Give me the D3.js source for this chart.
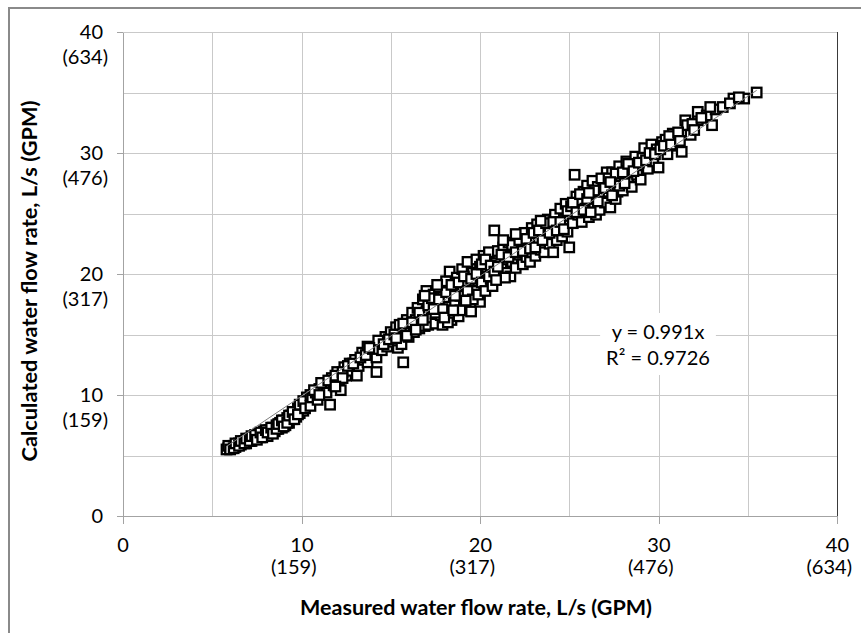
<!DOCTYPE html>
<html><head><meta charset="utf-8">
<script src="https://cdn.jsdelivr.net/npm/d3@7"></script>
<style>
html,body{margin:0;padding:0;background:#fff;}
svg{display:block;font-family:Lato,"Open Sans",sans-serif;}
</style></head>
<body><svg id="chart" width="861" height="633"></svg>
<script>
// ---- data ----
const xTickValues = [0, 10, 20, 30, 40];
const xTickGpm = ["", "(159)", "(317)", "(476)", "(634)"];
const yTickValues = [0, 10, 20, 30, 40];
const yTickGpm = ["", "(159)", "(317)", "(476)", "(634)"];
const gridValues = [5, 10, 15, 20, 25, 30, 35, 40];
const xTitle = "Measured water flow rate, L/s (GPM)";
const yTitle = "Calculated water flow rate, L/s (GPM)";
const trendSlope = 0.991;
const trendR2 = "0.9726";
// [measured L/s, calculated L/s]
const flowPoints = [
[5.9,5.6],[5.8,5.5],[6.0,5.7],[6.1,5.6],[6.2,5.8],[6.3,5.7],[6.4,5.9],[6.5,6.0],[6.6,5.9],[6.7,6.1],[6.8,6.2],[6.9,6.0],[7.0,6.3],[7.1,6.4],[7.2,6.2],[7.3,6.5],[7.4,6.4],[7.5,6.6],[7.6,6.8],[7.7,6.5],[7.8,6.7],[7.9,7.0],[8.0,6.8],[8.1,6.6],[8.2,7.1],[8.3,6.9],[8.4,7.3],[8.5,7.0],[8.6,7.5],[8.7,7.2],[8.8,7.7],[8.9,7.3],[9.0,7.9],[9.1,7.5],[9.2,8.1],[9.3,7.7],[9.4,8.3],[9.5,8.0],[9.6,8.6],[9.7,8.2],[9.8,8.9],[9.9,8.5],[10.0,9.1],[10.1,8.7],[10.2,9.4],[10.4,9.3],[10.3,9.8],
[5.9,5.8],[6.0,5.5],[6.2,5.6],[6.3,6.0],[6.5,5.8],[6.6,6.2],[6.8,6.0],[6.9,6.4],[7.1,6.2],[7.2,6.6],[7.4,6.7],[7.5,6.3],[7.7,6.9],[7.8,6.5],[8.0,7.1],[8.1,6.9],[8.3,7.3],[8.4,6.8],[8.6,7.2],[8.7,7.6],[8.9,7.9],[9.0,7.4],[9.2,7.7],[9.3,8.3],[9.5,8.6],[9.6,8.0],[9.8,8.4],[9.9,9.2],[10.1,9.5],[10.2,8.9],[10.5,10.0],[10.5,9.1],
[10.6,9.8],[10.8,10.2],[10.9,9.6],[11.0,10.5],[11.2,10.6],[11.3,11.0],[11.4,10.2],[11.6,9.2],[11.7,11.4],[11.8,10.8],[12.0,11.9],[12.1,11.2],[12.2,10.4],[12.4,12.3],[12.5,11.6],[12.7,12.6],[12.8,12.0],[13.0,12.9],[13.1,11.6],[13.2,12.4],[13.4,13.5],[13.5,12.9],[13.7,14.0],[13.7,12.7],[13.9,13.4],[14.2,13.1],[14.2,11.9],[14.4,14.3],[14.5,13.7],[14.7,14.8],[14.8,14.0],[15.0,15.2],[15.1,14.4],[15.4,13.9],[15.3,15.6],[15.7,12.7],
[10.7,10.4],[11.0,10.0],[11.1,11.0],[11.5,11.2],[11.9,11.6],[12.3,11.9],[12.6,12.4],[12.9,12.6],[13.3,13.1],[13.6,13.3],[14.0,13.8],[14.3,14.5],[14.6,14.2],[14.9,14.6],[13.8,13.9],[12.3,11.4],[11.9,10.7],
[15.2,15.0],[15.4,14.5],[15.5,15.8],[15.6,14.2],[15.8,15.3],[15.9,16.2],[16.0,14.8],[16.1,15.6],[16.2,16.8],[16.3,15.2],[16.4,16.2],[16.5,17.2],[16.6,15.5],[16.7,16.6],[16.8,17.9],[16.9,15.7],[17.0,18.6],[17.0,16.9],[17.1,15.8],[17.2,17.6],[17.3,16.4],[17.4,18.3],[17.5,15.9],[17.6,17.2],[17.7,18.9],[17.8,16.6],[17.9,15.8],[18.0,17.9],[18.1,19.4],[18.2,17.3],[18.3,20.2],[18.4,16.2],[18.5,18.6],[18.6,17.6],[18.7,19.7],[18.8,16.5],[18.9,18.2],[19.0,20.4],[19.1,17.4],[19.2,19.1],[19.3,21.0],[19.4,18.0],[19.5,16.9],[19.6,20.1],[19.7,18.6],[19.8,21.2],[19.9,19.4],[20.0,17.7],[20.0,20.6],
[15.3,14.7],[15.7,15.9],[15.9,14.9],[16.2,16.0],[16.4,15.4],[16.6,16.8],[16.8,16.2],[17.1,17.4],[17.3,18.0],[17.5,16.8],[17.7,17.9],[17.9,17.1],[18.1,18.5],[18.2,16.0],[18.4,19.1],[18.6,18.2],[18.8,19.3],[18.9,17.0],[19.1,19.8],[19.3,18.6],[19.5,19.6],[19.6,17.9],[19.8,20.0],[19.9,18.3],[16.9,18.2],[17.6,19.1],[18.0,16.4],[19.2,17.8],[17.4,17.1],[18.5,17.0],
[20.1,19.3],[20.2,21.5],[20.3,18.6],[20.4,20.3],[20.5,21.8],[20.6,19.6],[20.7,19.0],[20.8,23.6],[20.9,20.9],[21.0,21.9],[21.1,19.9],[21.2,20.6],[21.3,22.2],[21.4,21.2],[21.5,20.1],[21.6,22.6],[21.7,19.8],[21.8,21.0],[21.9,22.2],[22.0,20.5],[22.1,23.1],[22.2,21.6],[22.3,22.4],[22.4,20.8],[22.5,23.4],[22.6,21.4],[22.7,22.3],[22.8,21.0],[22.9,23.8],[23.0,22.6],[23.1,21.5],[23.2,24.1],[23.3,22.9],[23.4,22.0],[23.5,23.9],[23.6,21.8],[23.7,23.3],[23.8,24.5],[23.9,22.5],[24.0,23.7],[24.1,21.8],[24.2,24.9],[24.3,22.8],[24.4,24.1],[24.5,25.4],[24.6,23.1],[24.7,24.5],[24.8,25.8],[24.9,23.5],[25.0,22.2],[25.0,24.8],
[20.1,20.8],[20.3,21.2],[20.5,19.8],[20.6,20.7],[20.8,20.2],[21.0,20.6],[21.2,21.6],[21.4,19.7],[21.6,21.4],[21.8,22.4],[22.0,21.8],[22.2,22.8],[22.4,21.9],[22.6,22.9],[22.8,22.1],[23.0,23.4],[23.1,22.2],[23.3,23.6],[23.5,22.8],[23.7,24.2],[23.9,23.4],[24.1,24.3],[24.3,23.6],[24.5,24.3],[24.7,23.7],[24.9,25.2],[22.0,23.3],[21.3,22.8],[23.4,24.4],[20.9,19.5],
[25.1,25.6],[25.2,24.2],[25.3,28.2],[25.4,26.4],[25.5,24.9],[25.6,25.9],[25.7,24.3],[25.8,26.8],[25.9,25.4],[26.0,27.3],[26.1,24.7],[26.2,26.1],[26.3,27.7],[26.4,25.6],[26.5,24.9],[26.6,27.2],[26.7,25.3],[26.8,26.4],[26.9,27.6],[27.0,25.9],[27.1,28.4],[27.2,26.8],[27.3,25.5],[27.4,28.4],[27.5,27.2],[27.6,26.2],[27.7,26.8],[27.8,28.9],[27.9,27.6],[28.0,26.9],[28.2,29.3],[28.3,27.6],[28.4,28.8],[28.5,27.2],[28.7,29.7],[28.8,28.2],[29.0,27.8],[29.1,29.6],[29.2,30.4],[29.4,28.7],[29.6,30.7],[29.7,29.3],[29.9,30.3],[30.0,28.8],
[25.2,25.9],[25.4,25.1],[25.6,26.6],[25.8,25.3],[26.0,26.2],[26.2,25.1],[26.4,26.9],[26.6,26.0],[26.8,27.9],[27.0,27.1],[27.2,27.9],[27.4,26.5],[27.6,28.3],[27.8,27.3],[28.0,28.4],[28.1,27.5],[28.3,29.1],[28.6,28.5],[28.9,29.2],[29.3,29.4],[29.5,30.0],[29.8,29.9],[26.1,26.7],[27.3,27.6],
[30.2,30.9],[30.4,31.1],[30.5,29.9],[30.8,31.6],[30.9,31.3],[31.0,30.6],[31.3,30.1],[31.5,32.7],[31.6,32.3],[31.8,31.5],[32.2,32.7],[32.2,33.4],[32.7,33.1],[33.0,32.3],[33.2,33.6],[33.6,33.8],[34.2,34.5],[34.8,34.5],[35.5,35.0],
[30.1,30.3],[30.3,30.6],[30.6,31.4],[30.7,30.7],[31.1,31.7],[31.2,31.0],[31.9,32.4],[32.0,31.9],[32.4,32.9],[32.9,33.8],[34.0,34.1],[34.5,34.6]
];

// ---- layout ----
const svg = d3.select("#chart");
const pL = 123, pR = 837, pT = 32, pB = 516;
const x = d3.scaleLinear().domain([0, 40]).range([pL, pR]);
const y = d3.scaleLinear().domain([0, 40]).range([pB, pT]);
const labelFont = "20px";
const gridColor = "#c9c9c9";
const axisColor = "#a3a3a3";

// outer frame (cropped: left and top only)
svg.append("line").attr("x1", 9).attr("x2", 9).attr("y1", 7).attr("y2", 633).attr("stroke", "#8a8a8a").attr("stroke-width", 2);
svg.append("line").attr("x1", 8).attr("x2", 861).attr("y1", 8).attr("y2", 8).attr("stroke", "#8a8a8a").attr("stroke-width", 2);

// gridlines
const gx = svg.append("g").attr("transform", `translate(0,${pB})`)
  .call(d3.axisBottom(x).tickValues(gridValues).tickSize(-(pB - pT)).tickFormat(""));
gx.select(".domain").remove();
gx.selectAll(".tick line").attr("stroke", gridColor).attr("shape-rendering", "crispEdges");
const gy = svg.append("g").attr("transform", `translate(${pL},0)`)
  .call(d3.axisLeft(y).tickValues(gridValues).tickSize(-(pR - pL)).tickFormat(""));
gy.select(".domain").remove();
gy.selectAll(".tick line").attr("stroke", gridColor).attr("shape-rendering", "crispEdges");

// right edge of plot (darker)
svg.append("line").attr("x1", x(40)).attr("x2", x(40)).attr("y1", pT).attr("y2", pB)
  .attr("stroke", "#3a3a3a").attr("shape-rendering", "crispEdges");

// axes
const ax = svg.append("g").attr("transform", `translate(0,${pB})`)
  .call(d3.axisBottom(x).tickValues(xTickValues).tickSize(8).tickSizeOuter(0).tickFormat(""));
ax.selectAll("path,line").attr("stroke", axisColor).attr("shape-rendering", "crispEdges");
const ay = svg.append("g").attr("transform", `translate(${pL},0)`)
  .call(d3.axisLeft(y).tickValues(yTickValues).tickSize(6).tickSizeOuter(0).tickFormat(""));
ay.selectAll("path,line").attr("stroke", axisColor).attr("shape-rendering", "crispEdges");

// x tick labels (two lines)
const xl = svg.append("g").attr("font-size", labelFont).attr("fill", "#000");
xTickValues.forEach((v, i) => {
  if (xTickGpm[i] === "") {
    xl.append("text").attr("x", x(v)).attr("y", 552).attr("text-anchor", "middle").text(v);
  } else {
    xl.append("text").attr("x", x(v) + 12).attr("y", 552).attr("text-anchor", "end").text(v);
    xl.append("text").attr("x", x(v) + 15).attr("y", 574).attr("text-anchor", "end").text(xTickGpm[i]);
  }
});
// y tick labels (two lines)
const yl = svg.append("g").attr("font-size", labelFont).attr("fill", "#000");
yTickValues.forEach((v, i) => {
  yl.append("text").attr("x", 103).attr("y", y(v) + 7).attr("text-anchor", "end").text(v);
  if (yTickGpm[i] !== "") {
    yl.append("text").attr("x", 108).attr("y", y(v) + 32).attr("text-anchor", "end").text(yTickGpm[i]);
  }
});

// axis titles
svg.append("text").attr("x", 476).attr("y", 615).attr("text-anchor", "middle")
  .attr("font-size", "20px").attr("font-weight", "bold")
  .attr("textLength", 352).attr("lengthAdjust", "spacingAndGlyphs").text(xTitle);
svg.append("text").attr("transform", "translate(37,281) rotate(-90)").attr("text-anchor", "middle")
  .attr("font-size", "20px").attr("font-weight", "bold")
  .attr("textLength", 361).attr("lengthAdjust", "spacingAndGlyphs").text(yTitle);

// markers
svg.append("g").selectAll("rect").data(flowPoints).join("rect")
  .attr("x", d => x(d[0]) - 4.75).attr("y", d => y(d[1]) - 4.75)
  .attr("width", 9.5).attr("height", 9.5)
  .attr("fill", "#fff").attr("stroke", "#000").attr("stroke-width", 2.3);

// linear trendline through origin
const xMin = d3.min(flowPoints, d => d[0]), xMax = d3.max(flowPoints, d => d[0]);
svg.append("line").attr("x1", x(xMin)).attr("y1", y(trendSlope * xMin))
  .attr("x2", x(xMax)).attr("y2", y(trendSlope * xMax))
  .attr("stroke", "#7f7f7f").attr("stroke-width", 1);

// trendline label with white background
const tg = svg.append("g").attr("font-size", labelFont);
const bg = tg.append("rect").attr("fill", "#fff");
tg.append("text").attr("x", 658).attr("y", 339).attr("text-anchor", "middle").text(`y = ${trendSlope}x`);
tg.append("text").attr("x", 658).attr("y", 365).attr("text-anchor", "middle").text(`R² = ${trendR2}`);
const bb = tg.node().getBBox();
bg.attr("x", bb.x - 6).attr("y", bb.y - 6).attr("width", bb.width + 12).attr("height", bb.height + 12);
</script></body></html>
